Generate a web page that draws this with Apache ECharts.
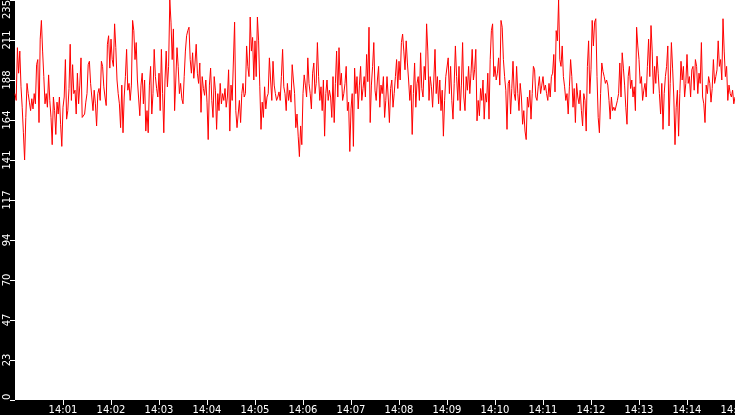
<!DOCTYPE html>
<html>
<head>
<meta charset="utf-8">
<script src="https://cdn.jsdelivr.net/npm/echarts@6/dist/echarts.min.js"></script>
<style>
html,body{margin:0;padding:0;background:#000;}
#c{width:735px;height:415px;}
</style>
</head>
<body>
<div id="c"></div>
<script>
// Sampling: one value every 1.5 s, 40 values per minute, starting at 14:00:00
var sampleStepMin = 0.025;
var hourLabel = '14';
var xTickMinutes = [1,2,3,4,5,6,7,8,9,10,11,12,13,14,15];
var yMin = 0, yMax = 235, yStep = 23.5;

var m00 = [180,176,207,192,205,184,172,157,141,166,186,180,175,170,177,171,180,174,197,200,163,212,223,205,190,174,180,172,191,176,166,150,178,170,156,175,168,178,162,149];
var m01 = [172,178,200,165,170,183,209,176,197,180,182,168,192,174,185,201,166,165,168,175,180,197,199,186,178,170,182,174,161,180,183,176,199,196,184,178,173,209,214,195];
var m02 = [212,200,196,221,207,188,180,174,160,185,157,178,190,206,182,186,176,185,223,217,200,210,188,188,167,185,192,174,188,158,170,157,185,196,168,180,206,190,183,178];
var m03 = [192,170,206,180,157,188,205,184,196,235,222,200,218,170,188,207,196,180,186,177,174,190,205,214,217,219,200,192,204,189,198,209,192,186,198,169,190,183,179,188];
var m04 = [175,153,185,195,176,166,190,182,159,180,170,186,174,180,176,183,172,178,194,158,185,176,175,222,170,160,168,176,163,180,186,178,180,208,196,190,225,205,213,188];
var m05 = [211,190,225,211,184,159,175,166,184,171,178,180,201,188,176,199,185,180,176,178,181,176,190,206,184,180,170,186,176,182,175,197,188,180,160,168,155,143,161,150];
var m06 = [180,191,185,178,201,186,180,171,192,198,180,186,210,190,176,184,170,188,155,180,188,176,182,178,166,190,163,186,205,178,207,185,192,176,180,186,196,170,175,146];
var m07 = [171,180,149,195,180,190,171,185,196,176,183,190,178,203,187,219,163,185,196,210,182,176,188,196,172,185,180,190,166,176,190,178,163,183,188,172,180,190,200,183];
var m08 = [199,188,210,215,205,194,211,198,188,176,185,156,180,198,172,186,190,176,204,183,178,196,188,221,205,176,190,184,172,188,206,180,190,174,188,170,182,155,176,190];
var m09 = [190,201,180,196,176,165,186,208,190,176,196,170,185,210,178,170,190,182,196,180,192,206,188,194,206,164,176,167,183,176,188,165,180,175,192,165,200,217,221,190];
var m10 = [196,188,192,201,185,223,219,200,190,182,159,186,188,168,183,199,180,176,196,180,170,186,178,162,170,158,153,178,172,182,165,180,196,194,178,176,184,190,180,185];
var m11 = [190,182,185,180,176,186,178,190,192,203,181,217,211,235,200,196,208,190,184,176,180,168,184,200,190,172,183,163,186,178,174,182,170,161,180,176,158,196,211,180];
var m12 = [194,223,208,222,224,190,166,157,180,198,193,190,186,188,185,176,165,178,170,172,170,171,176,180,198,178,204,195,185,172,162,190,196,183,188,178,184,170,219,208];
var m13 = [200,186,190,176,182,186,178,196,212,190,220,205,180,196,186,202,192,180,168,186,159,180,190,196,208,161,186,210,195,178,150,172,182,155,180,199,188,196,178,186];
var m14 = [203,186,190,178,194,196,182,200,196,180,192,186,210,178,174,163,185,180,190,186,175,183,200,186,190,194,211,196,200,188,224,205,190,196,176,185,180,178,182,174];
var lastValue = [178];

var values = [].concat(m00,m01,m02,m03,m04,m05,m06,m07,m08,m09,m10,m11,m12,m13,m14,lastValue);
var seriesData = values.map(function(v, i){ return [i * sampleStepMin, v]; });

function pad2(n){ n = Math.round(n); return (n < 10 ? '0' : '') + n; }

var chart = echarts.init(document.getElementById('c'), null, {renderer:'canvas'});
chart.setOption({
  backgroundColor: '#000000',
  animation: false,
  textStyle: {fontFamily: 'DejaVu Sans'},
  grid: {left: 15, right: 0, top: 0, bottom: 15, show: true, backgroundColor: '#ffffff', borderWidth: 0,
    containLabel: false, outerBoundsMode: 'none'},
  xAxis: {
    type: 'value', min: 0, max: 15, interval: 1,
    splitLine: {show: false},
    axisLine: {show: false},
    axisTick: {show: true, length: 5, lineStyle: {color: '#ffffff', width: 1}, customValues: xTickMinutes},
    axisLabel: {color: '#ffffff', fontSize: 10, fontFamily: 'DejaVu Sans', margin: 5,
      customValues: xTickMinutes, hideOverlap: false,
      formatter: function(v){ return hourLabel + ':' + pad2(v); }}
  },
  yAxis: {
    type: 'value', min: yMin, max: yMax, interval: yStep,
    splitLine: {show: false},
    axisLine: {show: false},
    axisTick: {show: true, length: 5, lineStyle: {color: '#ffffff', width: 1}},
    axisLabel: {color: '#ffffff', fontSize: 10, fontFamily: 'DejaVu Sans', rotate: 90, margin: 3,
      alignMinLabel: 'left', alignMaxLabel: 'right', hideOverlap: false,
      formatter: function(v){ return String(Math.floor(v + 1e-9)); }}
  },
  series: [{
    type: 'line', data: seriesData, showSymbol: false, symbol: 'none',
    lineStyle: {color: '#ff0000', width: 1}, itemStyle: {color: '#ff0000'}
  }]
});
</script>
</body>
</html>
